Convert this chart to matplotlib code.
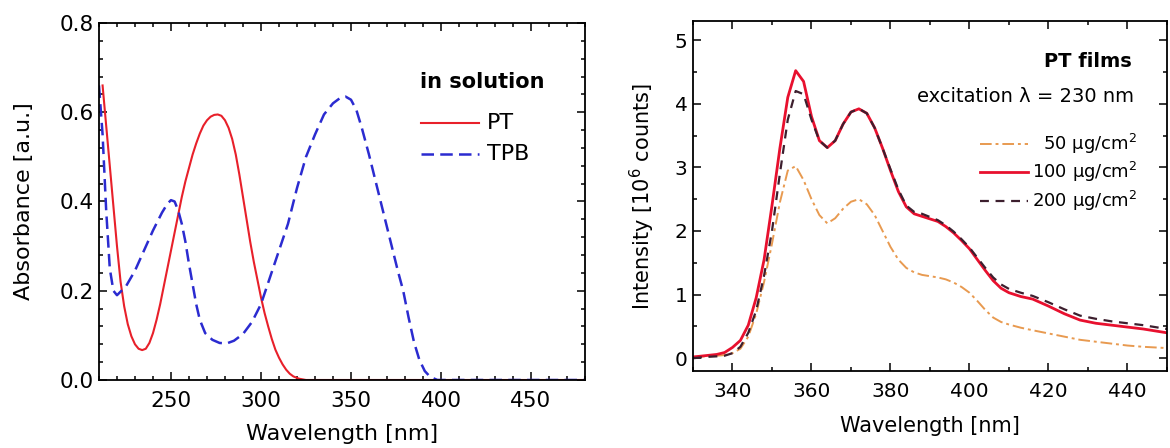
import numpy as np
import matplotlib
matplotlib.use("Agg")
import matplotlib.pyplot as plt
from matplotlib.ticker import MultipleLocator, FormatStrFormatter

plt.rcParams['font.family'] = ['DejaVu Sans']
plt.rcParams['mathtext.fontset'] = 'dejavusans'

# ---- left panel: absorbance in solution ----
wl_pt = [212, 214, 216, 218, 220, 222, 224, 226, 228, 230, 232, 234, 236, 238, 240,
         242, 244, 246, 248, 250, 252, 254, 256, 258, 260, 262, 264, 266, 268, 270,
         272, 274, 276, 278, 280, 282, 284, 286, 288, 290, 292, 294, 296, 298, 300,
         302, 304, 306, 308, 310, 312, 314, 316, 318, 321, 325, 340, 380, 420, 480]
abs_pt = [0.66, 0.57, 0.48, 0.39, 0.30, 0.22, 0.165, 0.125, 0.098, 0.08, 0.07, 0.067, 0.07, 0.083, 0.105,
          0.135, 0.17, 0.21, 0.25, 0.29, 0.33, 0.37, 0.41, 0.445, 0.475, 0.505, 0.53, 0.552, 0.57, 0.582,
          0.59, 0.594, 0.595, 0.592, 0.582, 0.565, 0.54, 0.505, 0.46, 0.41, 0.36, 0.31, 0.265, 0.225, 0.185,
          0.15, 0.12, 0.092, 0.068, 0.05, 0.035, 0.023, 0.014, 0.008, 0.003, 0.0, 0.0, 0.0, 0.0, 0.0]

wl_tpb = [210, 212, 214, 216, 218, 220, 225, 230, 235, 240, 245, 248, 250, 252, 254, 256, 258,
          260, 262, 264, 266, 269, 273, 277, 281, 285, 290, 295, 300, 305, 310, 315, 320,
          325, 330, 335, 340, 344, 347, 350, 353, 356, 360, 364, 368, 372, 376, 379, 382,
          385, 388, 391, 394, 398, 440, 480]
abs_tpb = [0.66, 0.55, 0.38, 0.25, 0.20, 0.19, 0.21, 0.245, 0.29, 0.335, 0.375, 0.395, 0.403, 0.40, 0.38, 0.35, 0.31,
           0.26, 0.215, 0.17, 0.135, 0.105, 0.09, 0.083, 0.082, 0.088, 0.103, 0.13, 0.17, 0.23, 0.29, 0.35, 0.43,
           0.50, 0.55, 0.595, 0.62, 0.632, 0.635, 0.628, 0.605, 0.565, 0.505, 0.44, 0.375, 0.31, 0.245, 0.20, 0.14,
           0.085, 0.045, 0.02, 0.007, 0.0, 0.0, 0.0]

# ---- right panel: PT film emission ----
wl_em = [330, 333, 336, 338, 340, 342, 344, 346, 348, 350, 352, 354, 356, 358, 360, 362,
         364, 366, 368, 370, 372, 374, 376, 378, 380, 382, 384, 386, 388, 390, 392, 394,
         396, 398, 400, 402, 404, 406, 408, 410, 413, 416, 420, 424, 428, 432, 436, 440,
         444, 447, 450]
em_50 = [0.02, 0.03, 0.04, 0.05, 0.08, 0.15, 0.34, 0.7, 1.2, 1.8, 2.45, 2.95, 3.02, 2.8, 2.5, 2.25,
         2.12, 2.2, 2.35, 2.46, 2.5, 2.42, 2.25, 2.0, 1.75, 1.55, 1.42, 1.35, 1.31, 1.29, 1.27, 1.24,
         1.19, 1.12, 1.03, 0.9, 0.76, 0.64, 0.57, 0.53, 0.48, 0.44, 0.39, 0.34, 0.29, 0.26, 0.23, 0.2,
         0.18, 0.17, 0.16]
em_100 = [0.02, 0.04, 0.06, 0.09, 0.17, 0.28, 0.52, 0.95, 1.55, 2.4, 3.3, 4.1, 4.52, 4.35, 3.8, 3.42,
          3.31, 3.42, 3.68, 3.87, 3.92, 3.85, 3.62, 3.3, 2.95, 2.62, 2.38, 2.27, 2.23, 2.19, 2.15, 2.07,
          1.97, 1.85, 1.72, 1.55, 1.38, 1.22, 1.1, 1.03, 0.97, 0.93, 0.82, 0.7, 0.6, 0.55, 0.52, 0.49,
          0.46, 0.43, 0.40]
em_200 = [0.0, 0.02, 0.03, 0.04, 0.08, 0.18, 0.4, 0.75, 1.3, 2.0, 2.9, 3.75, 4.2, 4.15, 3.75, 3.42,
          3.31, 3.42, 3.68, 3.87, 3.92, 3.85, 3.62, 3.3, 2.97, 2.65, 2.4, 2.3, 2.27, 2.22, 2.17, 2.09,
          1.99, 1.87, 1.74, 1.58, 1.42, 1.27, 1.16, 1.09, 1.03, 0.98, 0.88, 0.77, 0.67, 0.62, 0.58, 0.55,
          0.52, 0.49, 0.46]

c_pt = '#e8202a'
c_tpb = '#2b2bd0'
c_50 = '#e89a50'
c_100 = '#e8102e'
c_200 = '#3d1f2e'

fig = plt.figure(figsize=(11.7, 4.48), dpi=100)
ax1 = fig.add_axes([0.0846, 0.1518, 0.4154, 0.7969])
ax2 = fig.add_axes([0.5923, 0.1719, 0.4051, 0.7812])

for ax in (ax1, ax2):
    for s in ax.spines.values():
        s.set_linewidth(1.3)
    ax.tick_params(which='both', direction='in', top=True, right=True, width=1.1)
    ax.tick_params(which='major', length=6)
    ax.tick_params(which='minor', length=3)
    ax.tick_params(axis='x', which='major', pad=8)
    ax.tick_params(axis='y', which='major', pad=4)

# left
ax1.plot(wl_pt, abs_pt, color=c_pt, lw=1.5)
ax1.plot(wl_tpb, abs_tpb, color=c_tpb, lw=1.8, dashes=(5, 2.5))
ax1.set_xlim(210, 480)
ax1.set_ylim(0, 0.8)
ax1.xaxis.set_major_locator(MultipleLocator(50))
ax1.xaxis.set_minor_locator(MultipleLocator(10))
ax1.yaxis.set_major_locator(MultipleLocator(0.2))
ax1.yaxis.set_minor_locator(MultipleLocator(0.04))
ax1.yaxis.set_major_formatter(FormatStrFormatter('%.1f'))
ax1.tick_params(labelsize=15.5)
ax1.set_xlabel('Wavelength [nm]', fontsize=16, labelpad=9)
ax1.set_ylabel('Absorbance [a.u.]', fontsize=16, labelpad=18)

ax1.text(0.660, 0.835, 'in solution', transform=ax1.transAxes, fontsize=15,
         fontweight='bold', va='center', ha='left')
ax1.plot([0.663, 0.782], [0.72, 0.72], transform=ax1.transAxes, color=c_pt, lw=1.5)
ax1.text(0.798, 0.72, 'PT', transform=ax1.transAxes, fontsize=16, va='center')
ax1.plot([0.663, 0.782], [0.633, 0.633], transform=ax1.transAxes, color=c_tpb,
         lw=1.8, dashes=(5, 2.5))
ax1.text(0.798, 0.633, 'TPB', transform=ax1.transAxes, fontsize=16, va='center')

# right
ax2.plot(wl_em, em_50, color=c_50, lw=1.4, dashes=(6, 2, 1.5, 2))
ax2.plot(wl_em, em_100, color=c_100, lw=2.0)
ax2.plot(wl_em, em_200, color=c_200, lw=1.6, dashes=(4, 3))
ax2.set_xlim(330, 450)
ax2.set_ylim(-0.2, 5.3)
ax2.xaxis.set_major_locator(MultipleLocator(20))
ax2.xaxis.set_minor_locator(MultipleLocator(10))
ax2.yaxis.set_major_locator(MultipleLocator(1))
ax2.yaxis.set_minor_locator(MultipleLocator(0.5))
ax2.tick_params(labelsize=14.5)
ax2.set_xlabel('Wavelength [nm]', fontsize=15, labelpad=11)
ax2.set_ylabel('Intensity [10$^6$ counts]', fontsize=15, labelpad=13)

ax2.text(0.926, 0.883, 'PT films', transform=ax2.transAxes, fontsize=14,
         fontweight='bold', ha='right', va='center')
ax2.text(0.930, 0.783, 'excitation λ = 230 nm', transform=ax2.transAxes, fontsize=14,
         ha='right', va='center')
leg = [('50 µg/cm$^2$', c_50, dict(lw=1.4, dashes=(6, 2, 1.5, 2)), 0.649),
       ('100 µg/cm$^2$', c_100, dict(lw=2.0), 0.569),
       ('200 µg/cm$^2$', c_200, dict(lw=1.6, dashes=(4, 3)), 0.486)]
for lab, col, kw, yy in leg:
    ax2.plot([0.6055, 0.707], [yy, yy], transform=ax2.transAxes, color=col, **kw)
    ax2.text(0.937, yy, lab, transform=ax2.transAxes, fontsize=13, ha='right', va='center')

fig.savefig('out.png', dpi=100)
